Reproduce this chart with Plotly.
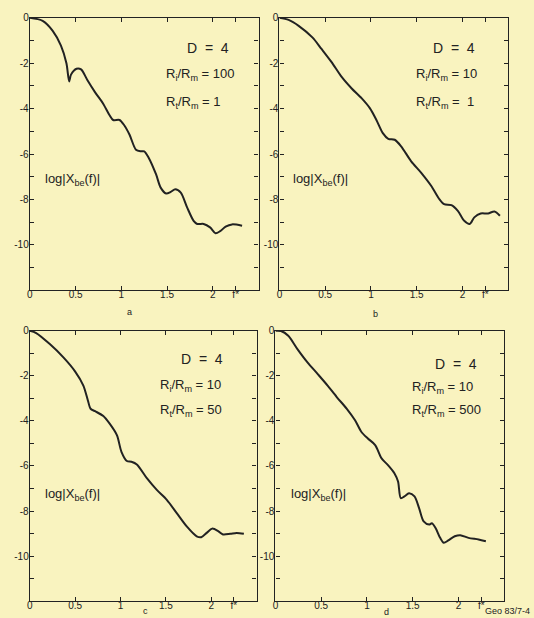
import plotly.graph_objects as go

W, H = 534, 618

# ---- data ----
f_a = [0, 0.14, 0.25, 0.34, 0.40, 0.43, 0.45, 0.51, 0.56, 0.63, 0.71, 0.80, 0.87, 0.91, 0.98, 1.03,
       1.09, 1.16, 1.21, 1.25, 1.30, 1.38, 1.43, 1.49, 1.54, 1.59, 1.65, 1.72, 1.79, 1.83, 1.90,
       1.97, 2.03, 2.08, 2.14, 2.21, 2.32]
logx_a = [0, -0.13, -0.57, -1.22, -2.0, -2.8, -2.5, -2.24, -2.27, -2.75, -3.26, -3.77, -4.28, -4.5, -4.5,
          -4.72, -5.15, -5.81, -5.88, -5.88, -6.17, -6.9, -7.48, -7.74, -7.67, -7.55, -7.7, -8.36, -8.94,
          -9.08, -9.08, -9.23, -9.49, -9.4, -9.2, -9.1, -9.16]

f_b = [0, 0.10, 0.21, 0.36, 0.46, 0.57, 0.68, 0.79, 0.90, 0.99, 1.06, 1.13, 1.19, 1.26, 1.33, 1.44,
       1.55, 1.66, 1.75, 1.80, 1.88, 1.95, 2.02, 2.08, 2.13, 2.20, 2.28, 2.35, 2.41]
logx_b = [0, -0.09, -0.35, -0.86, -1.37, -1.95, -2.6, -3.11, -3.55, -3.99, -4.5, -5.08, -5.33, -5.37,
          -5.66, -6.32, -6.83, -7.41, -8.0, -8.21, -8.25, -8.5, -8.94, -9.08, -8.79, -8.62, -8.62,
          -8.53, -8.72]

f_c = [0, 0.07, 0.22, 0.37, 0.50, 0.59, 0.64, 0.67, 0.72, 0.81, 0.88, 0.96, 1.01, 1.07, 1.12, 1.18,
       1.29, 1.40, 1.51, 1.62, 1.73, 1.84, 1.89, 1.95, 2.01, 2.08, 2.13, 2.21, 2.28, 2.36]
logx_c = [0, -0.1, -0.59, -1.18, -1.81, -2.43, -3.09, -3.46, -3.57, -3.78, -4.12, -4.63, -5.37, -5.78,
          -5.81, -5.93, -6.54, -7.06, -7.5, -8.09, -8.68, -9.12, -9.16, -8.97, -8.78, -8.9, -9.04,
          -9.01, -8.97, -9.01]

f_d = [0, 0.06, 0.14, 0.24, 0.35, 0.46, 0.57, 0.67, 0.78, 0.87, 0.94, 1.01, 1.09, 1.16, 1.23, 1.30,
       1.34, 1.37, 1.41, 1.46, 1.52, 1.57, 1.62, 1.68, 1.71, 1.75, 1.80, 1.84, 1.89, 1.96, 2.02,
       2.11, 2.22, 2.30]
logx_d = [0, -0.01, -0.22, -0.81, -1.4, -1.91, -2.43, -2.94, -3.46, -3.97, -4.49, -4.78, -5.07, -5.66,
          -5.96, -6.32, -6.69, -7.43, -7.35, -7.21, -7.35, -7.87, -8.46, -8.6, -8.54, -8.75, -9.19,
          -9.41, -9.3, -9.12, -9.07, -9.19, -9.26, -9.34]

x_tickvals = [0, 0.5, 1, 1.5, 2, 2.25]
x_ticktext = ["0", "0.5", "1", "1.5", "2", "f*"]
y_tickvals = [0, -2, -4, -6, -8, -10]
y_ticktext = ["0", "-2", "-4", "-6", "-8", "-10"]

panel_letters = ["a", "b", "c", "d"]
D_text = "D  =  4"
ri_text = ["R<sub>i</sub>/R<sub>m</sub> = 100", "R<sub>i</sub>/R<sub>m</sub> = 10",
           "R<sub>i</sub>/R<sub>m</sub> = 10", "R<sub>i</sub>/R<sub>m</sub> = 10"]
rt_text = ["R<sub>t</sub>/R<sub>m</sub> = 1", "R<sub>t</sub>/R<sub>m</sub> =  1",
           "R<sub>t</sub>/R<sub>m</sub> = 50", "R<sub>t</sub>/R<sub>m</sub> = 500"]
ylabel = "log|X<sub>be</sub>(f)|"
credit = "Geo 83/7-4"

# ---- layout geometry (pixels) ----
boxes = [  # left, right, top, bottom
    (27, 257, 12, 287),
    (278, 508, 12, 287),
    (27, 255, 328, 601),
    (274, 504, 328, 601),
]

bg = "#f9f3bf"
ink = "#222222"
font = "Liberation Sans, Arial, sans-serif"

fig = go.Figure()
series = [(f_a, logx_a), (f_b, logx_b), (f_c, logx_c), (f_d, logx_d)]
for i, (fx, fy) in enumerate(series):
    sfx = "" if i == 0 else str(i + 1)
    fig.add_trace(go.Scatter(x=fx, y=fy, mode="lines", xaxis="x" + sfx, yaxis="y" + sfx,
                             line=dict(color=ink, width=2, shape="spline", smoothing=0.8),
                             showlegend=False, hoverinfo="skip"))

layout = dict(width=W, height=H, autosize=False, margin=dict(l=0, r=0, t=0, b=0),
              paper_bgcolor=bg, plot_bgcolor=bg, showlegend=False,
              font=dict(family=font, color=ink, size=10))
for i, (l, r, t, b) in enumerate(boxes):
    sfx = "" if i == 0 else str(i + 1)
    layout["xaxis" + sfx] = dict(domain=[l / W, r / W], range=[0, 2.5], anchor="y" + sfx,
                                 tickvals=x_tickvals, ticktext=x_ticktext, ticks="inside",
                                 ticklen=4, tickwidth=1, tickcolor=ink, showline=True,
                                 linecolor=ink, linewidth=1.3, mirror="ticks", showgrid=False,
                                 zeroline=False, tickfont=dict(size=10, color=ink),
                                 ticklabelstandoff=-5, fixedrange=True)
    layout["yaxis" + sfx] = dict(domain=[1 - b / H, 1 - t / H], range=[-12, 0], anchor="x" + sfx,
                                 tickvals=y_tickvals, ticktext=y_ticktext, ticks="inside",
                                 ticklen=4, tickwidth=1, tickcolor=ink, showline=True,
                                 linecolor=ink, linewidth=1.3, mirror="ticks", showgrid=False,
                                 zeroline=False, tickfont=dict(size=10, color=ink),
                                 ticklabelstandoff=-2,
                                 minor=dict(dtick=1, tick0=0, ticks="inside", ticklen=4,
                                            tickwidth=1, tickcolor=ink, showgrid=False),
                                 fixedrange=True)
fig.update_layout(**layout)


def ann(x, y, text, size=13, xanchor="left"):
    fig.add_annotation(x=x / W, y=1 - y / H, xref="paper", yref="paper", text=text,
                       showarrow=False, xanchor=xanchor, yanchor="middle",
                       font=dict(size=size, color=ink, family=font))


# panel texts
D_pos = [(183, 42), (430, 42), (177, 356), (432, 362)]
R_pos = [(162, 69, 97), (413, 69, 97), (156, 383, 408), (409, 385, 408)]
L_pos = [(40, 175), (290, 175), (40, 493), (288, 493)]
letter_pos = [(127, 309), (375, 311), (143, 611), (386, 612)]
for i in range(4):
    ann(D_pos[i][0], D_pos[i][1], D_text, size=14)
    ann(R_pos[i][0], R_pos[i][1], ri_text[i], size=13)
    ann(R_pos[i][0], R_pos[i][2], rt_text[i], size=13)
    ann(L_pos[i][0], L_pos[i][1], ylabel, size=13)
    ann(letter_pos[i][0], letter_pos[i][1], panel_letters[i], size=9, xanchor="center")
ann(483, 611, credit, size=9)

fig.write_html("out.html", config={"displayModeBar": False},
               post_script="document.body.style.margin='0';document.body.style.overflow='hidden';")
